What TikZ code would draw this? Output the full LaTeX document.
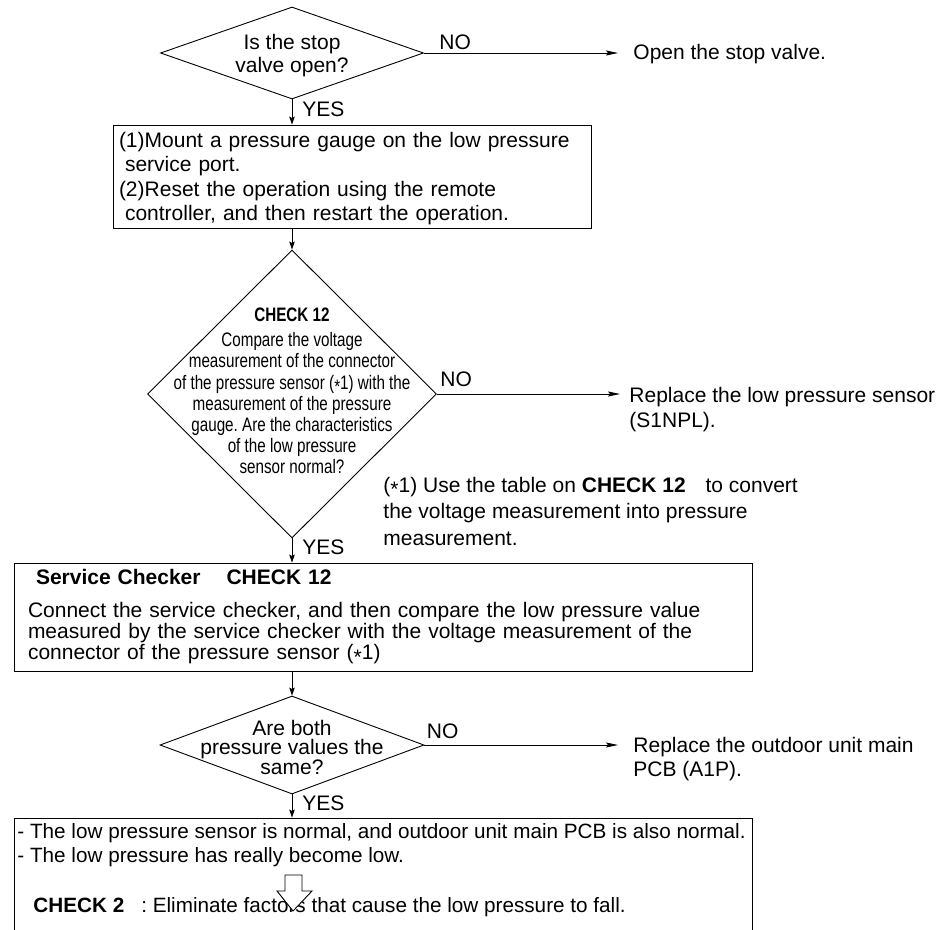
\documentclass[tikz,border=0pt]{standalone}
\usepackage{fontspec}
\setmainfont{Liberation Sans}
\newfontfamily\narrowfont[FakeStretch=0.78]{Liberation Sans}
\usetikzlibrary{shapes.geometric,arrows.meta}
\newcommand{\astmark}{\raisebox{-0.22em}{*}}
\frenchspacing

\begin{document}
\begin{tikzpicture}[x=1pt,y=-1pt,>={Stealth[length=8pt,width=5.5pt,inset=1.5pt]},line width=0.9pt,
  decision/.style={draw,diamond,inner sep=0pt},
  stepbox/.style={draw,rectangle,inner ysep=0pt,align=left},
  txt/.style={inner sep=0pt,align=left,font=\fontsize{21}{25}\selectfont},
  sidearrow/.style={-{Stealth[length=12pt,width=5pt,inset=2pt]}},
  yeslbl/.style={midway,right=10pt,yshift=3pt,inner sep=0pt,font=\fontsize{21}{21}\selectfont},
  nolbl/.style={pos=0,anchor=south west,inner sep=0pt,font=\fontsize{21}{21}\selectfont}]
\useasboundingbox (0,0) rectangle (952,929);
% stop valve
\node[decision,minimum width=263pt,minimum height=92pt] (valve) at (292,53) {};
\node[txt,align=center,font=\fontsize{21}{23}\selectfont] (valvetxt) at (292,56) {Is the stop\\valve open?};
\node[txt,anchor=west] (openvalve) at (633,54) {Open the stop valve.};
\node[stepbox,text width=466pt,inner xsep=6pt,minimum height=103pt,font=\fontsize{21}{24.5}\selectfont] (gauge) at (352,176.5)
  {\rule{0pt}{19pt}(1)Mount a pressure gauge on the low pressure\\\hspace*{6pt}service port.\\(2)Reset the operation using the remote\\\hspace*{6pt}controller, and then restart the operation.};
% CHECK 12 diamond
\node[decision,minimum width=289pt,minimum height=288pt] (sensor) at (292,394) {};
\node[inner sep=0pt,align=center,font=\narrowfont\fontsize{19.5}{21.2}\selectfont] (sensortxt) at (292,391)
  {\textbf{CHECK 12}\\[4pt]Compare the voltage\\measurement of the connector\\of the pressure sensor (\astmark1) with the\\measurement of the pressure\\gauge. Are the characteristics\\of the low pressure\\sensor normal?};
\node[txt,anchor=west] (newsensor) at (629,410) {Replace the low pressure sensor\\(S1NPL).};
\node[txt,anchor=west,font=\fontsize{21}{26.5}\selectfont] (note) at (383,511)
  {(\astmark1) Use the table on \textbf{CHECK 12}\hspace{14pt} to convert\\the voltage measurement into pressure\\measurement.};
\node[stepbox,text width=710pt,inner xsep=14pt,minimum height=108pt,font=\fontsize{21}{21}\selectfont] (checker) at (383,617)
  {\hspace*{8pt}\textbf{Service Checker\hspace{26pt}CHECK 12}\\[12pt]Connect the service checker, and then compare the low pressure value\\measured by the service checker with the voltage measurement of the\\connector of the pressure sensor (\astmark1)};
% same values
\node[decision,minimum width=264pt,minimum height=98pt] (same) at (292,745) {};
\node[inner sep=0pt,align=center,font=\fontsize{21}{19}\selectfont] (sametxt) at (292,747.5) {Are both\\pressure values the\\same?};
\node[txt,anchor=west,font=\fontsize{21}{24}\selectfont] (newpcb) at (633,759) {Replace the outdoor unit main\\PCB (A1P).};
% result (bottom edge lies below the page)
\node[draw,rectangle,minimum width=738pt,minimum height=117pt,inner sep=0pt] (result) at (383,876.5) {};
\node[txt,anchor=base west,font=\fontsize{20.7}{25}\selectfont] (normal) at (17,838) {- The low pressure sensor is normal, and outdoor unit main PCB is also normal.};
\node[txt,anchor=base west,font=\fontsize{20.7}{25}\selectfont] (reallylow) at (17,862) {- The low pressure has really become low.};
\node[txt,anchor=base west,font=\fontsize{20.7}{25}\selectfont] (check2) at (33,912) {\textbf{CHECK 2}\hspace{17pt}: Eliminate factors that cause the low pressure to fall.};
\draw[fill=white] (285,875) -- (302,875) -- (302,891) -- (312,891) -- (293,911) -- (277,891) -- (285,891) -- cycle;
% connectors
\draw[sidearrow,shorten >=15pt] (valve.east) -- (valve.east -| openvalve.west) node[nolbl,xshift=15pt,yshift=3pt] {NO};
\draw[->] (valve.south) -- (valve.south |- gauge.north) node[yeslbl] {YES};
\draw[->] (sensor.north |- gauge.south) -- (sensor.north);
\draw[sidearrow,shorten >=9pt] (sensor.east) -- (sensor.east -| newsensor.west) node[nolbl,xshift=3pt,yshift=7pt] {NO};
\draw[->] (sensor.south) -- (sensor.south |- checker.north) node[yeslbl] {YES};
\draw[->] (same.north |- checker.south) -- (same.north);
\draw[sidearrow,shorten >=15pt] (same.east) -- (same.east -| newpcb.west) node[nolbl,xshift=2pt,yshift=6pt] {NO};
\draw[->] (same.south) -- (same.south |- result.north) node[yeslbl] {YES};
\end{tikzpicture}
\end{document}
